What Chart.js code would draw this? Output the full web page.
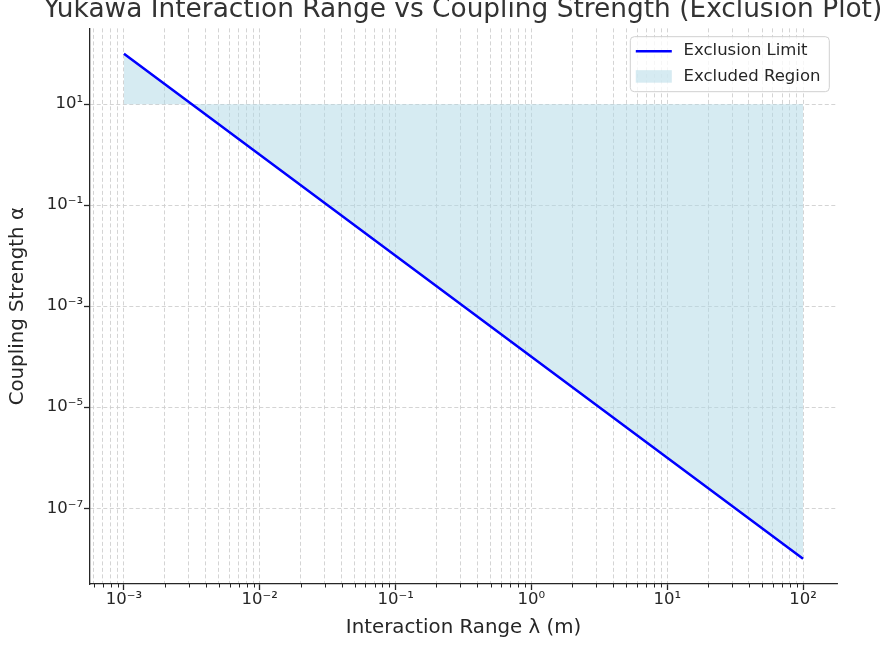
<!DOCTYPE html>
<html>
<head>
<meta charset="utf-8">
<script src="https://cdn.jsdelivr.net/npm/chart.js@4.4.1/dist/chart.umd.min.js"></script>
<style>
  html, body { margin: 0; padding: 0; background: #ffffff; overflow: hidden; width: 892px; height: 648px; }
  #wrap { position: absolute; left: 0; top: 0; width: 926px; height: 648px; }
</style>
</head>
<body>
<div id="wrap"><canvas id="c" width="926" height="648"></canvas></div>
<script>
// ---- data ----
const lambdaValues = [1e-3, 1e-2, 1e-1, 1e0, 1e1, 1e2];      // interaction range λ (m)
const alphaValues  = [1e2, 1e0, 1e-2, 1e-4, 1e-6, 1e-8];      // exclusion limit α
const exclusionCeiling = 10;                                   // upper edge of the shaded region
const seriesNames = ['Exclusion Limit', 'Excluded Region'];
const xMajorTicks = [1e-3, 1e-2, 1e-1, 1e0, 1e1, 1e2];
const xTickLabels = ['10⁻³', '10⁻²', '10⁻¹', '10⁰', '10¹', '10²'];
const yMajorTicks = [1e-7, 1e-5, 1e-3, 1e-1, 1e1];
const yTickLabels = ['10⁻⁷', '10⁻⁵', '10⁻³', '10⁻¹', '10¹'];
const xMinorMultipliers = [2, 3, 4, 5, 6, 7, 8, 9];
const xMinorDecades = [1e-4, 1e-3, 1e-2, 1e-1, 1e0, 1e1];
const titleText = 'Yukawa Interaction Range vs Coupling Strength (Exclusion Plot)';
const xTitle = 'Interaction Range λ (m)';
const yTitle = 'Coupling Strength α';

// ---- axis limits (matplotlib-style 5% margins in log space) ----
const X_MIN = Math.pow(10, -3.25), X_MAX = Math.pow(10, 2.25);
const Y_MIN = Math.pow(10, -8.5),  Y_MAX = Math.pow(10, 2.5);

const FONT = 'DejaVu Sans';
const TEXT = '#262626';
const GRID = '#cfcfcf';

const xMinorTicks = [];
xMinorDecades.forEach(d => xMinorMultipliers.forEach(m => {
  const v = m * d;
  if (v > X_MIN && v < X_MAX) xMinorTicks.push(v);
}));
const xAllTicks = xMajorTicks.concat(xMinorTicks).sort((a, b) => a - b);

const points = lambdaValues.map((x, i) => ({ x: x, y: alphaValues[i] }));

// minor tick marks on the x axis (shorter than major ones)
const minorTickPlugin = {
  id: 'minorTicks',
  afterDraw(chart) {
    const sx = chart.scales.x;
    const ctx = chart.ctx;
    const y0 = chart.chartArea.bottom;
    ctx.save();
    ctx.strokeStyle = TEXT;
    ctx.lineWidth = 1;
    xMinorTicks.forEach(v => {
      const px = Math.round(sx.getPixelForValue(v)) + 0.5;
      ctx.beginPath();
      ctx.moveTo(px, y0);
      ctx.lineTo(px, y0 + 3.5);
      ctx.stroke();
    });
    ctx.restore();
  }
};

// matplotlib-style legend inside the axes, upper right
const legendPlugin = {
  id: 'mplLegend',
  afterDraw(chart) {
    const ctx = chart.ctx;
    const a = chart.chartArea;
    const ds0 = chart.data.datasets[0], ds1 = chart.data.datasets[1];
    const w = 199, h = 55;
    const x0 = a.right - 7.7 - w, y0 = a.top + 8.3;
    const r = 4;
    ctx.save();
    ctx.beginPath();
    ctx.moveTo(x0 + r, y0);
    ctx.lineTo(x0 + w - r, y0);
    ctx.arcTo(x0 + w, y0, x0 + w, y0 + r, r);
    ctx.lineTo(x0 + w, y0 + h - r);
    ctx.arcTo(x0 + w, y0 + h, x0 + w - r, y0 + h, r);
    ctx.lineTo(x0 + r, y0 + h);
    ctx.arcTo(x0, y0 + h, x0, y0 + h - r, r);
    ctx.lineTo(x0, y0 + r);
    ctx.arcTo(x0, y0, x0 + r, y0, r);
    ctx.closePath();
    ctx.fillStyle = 'rgba(255,255,255,0.8)';
    ctx.fill();
    ctx.strokeStyle = '#d0d0d0';
    ctx.lineWidth = 1;
    ctx.stroke();

    ctx.strokeStyle = ds0.borderColor;
    ctx.lineWidth = ds0.borderWidth;
    ctx.beginPath();
    ctx.moveTo(x0 + 5.5, y0 + 14.5);
    ctx.lineTo(x0 + 41.5, y0 + 14.5);
    ctx.stroke();

    ctx.fillStyle = ds1.backgroundColor;
    ctx.fillRect(x0 + 5.5, y0 + 33.5, 36, 12.5);

    ctx.fillStyle = TEXT;
    ctx.font = '16.5px "' + FONT + '"';
    ctx.textBaseline = 'middle';
    ctx.textAlign = 'left';
    ctx.fillText(ds0.label, x0 + 53.3, y0 + 14.5);
    ctx.fillText(ds1.label, x0 + 53.3, y0 + 40);
    ctx.restore();
  }
};

new Chart(document.getElementById('c'), {
  type: 'line',
  data: {
    datasets: [
      {
        label: seriesNames[0],
        data: points,
        borderColor: '#0000ff',
        borderWidth: 2.5,
        pointRadius: 0,
        fill: false,
        tension: 0,
        order: 0
      },
      {
        label: seriesNames[1],
        data: points,
        borderWidth: 0,
        borderColor: 'rgba(0,0,0,0)',
        backgroundColor: 'rgba(173,216,230,0.5)',
        pointRadius: 0,
        fill: { value: exclusionCeiling },
        tension: 0,
        order: 1
      }
    ]
  },
  options: {
    responsive: false,
    animation: false,
    devicePixelRatio: 1,
    layout: { padding: 0 },
    plugins: {
      legend: { display: false },
      tooltip: { enabled: false },
      title: {
        display: true,
        text: titleText,
        color: '#333333',
        font: { family: FONT, size: 26.4, weight: 'normal', lineHeight: 1.2 },
        padding: { top: -5.4, bottom: 2.1 }
      }
    },
    scales: {
      x: {
        type: 'logarithmic',
        position: 'bottom',
        min: X_MIN,
        max: X_MAX,
        bounds: 'data',
        afterBuildTicks: s => { s.ticks = xAllTicks.map(v => ({ value: v })); },
        afterFit: s => { s.height = 64; },
        ticks: {
          autoSkip: false,
          maxRotation: 0,
          minRotation: 0,
          padding: 0,
          color: TEXT,
          font: { family: FONT, size: 16.5 },
          callback: v => { const i = xMajorTicks.indexOf(v); return i >= 0 ? xTickLabels[i] : ''; }
        },
        grid: {
          color: GRID,
          lineWidth: 0.9,
          drawTicks: true,
          tickLength: 6,
          tickWidth: 1.3,
          tickColor: c => (c.tick && xMajorTicks.indexOf(c.tick.value) >= 0) ? TEXT : 'rgba(0,0,0,0)'
        },
        border: { display: true, color: TEXT, width: 1.3, dash: [4, 2.5] },
        title: {
          display: true,
          text: xTitle,
          color: TEXT,
          font: { family: FONT, size: 19.8, lineHeight: 1.2 },
          padding: { top: 0, bottom: 8 }
        }
      },
      y: {
        type: 'logarithmic',
        position: 'left',
        min: Y_MIN,
        max: Y_MAX,
        bounds: 'data',
        afterBuildTicks: s => { s.ticks = yMajorTicks.map(v => ({ value: v })); },
        afterFit: s => { s.width = 90; },
        ticks: {
          autoSkip: false,
          padding: 1,
          color: TEXT,
          font: { family: FONT, size: 16.5 },
          callback: v => { const i = yMajorTicks.indexOf(v); return i >= 0 ? yTickLabels[i] : ''; }
        },
        grid: {
          color: GRID,
          lineWidth: 0.9,
          drawTicks: true,
          tickLength: 6,
          tickWidth: 1.3,
          tickColor: TEXT
        },
        border: { display: true, color: TEXT, width: 1.3, dash: [4, 2.5] },
        title: {
          display: true,
          text: yTitle,
          color: TEXT,
          font: { family: FONT, size: 19.8, lineHeight: 1.2 },
          padding: { top: 6.3, bottom: 0 }
        }
      },
      yRight: {
        type: 'linear',
        position: 'right',
        display: true,
        afterFit: s => { s.width = 926 - 837; },
        ticks: { display: false },
        grid: { display: false, drawTicks: false },
        border: { display: false },
        title: { display: false }
      }
    }
  },
  plugins: [minorTickPlugin, legendPlugin]
});
</script>
</body>
</html>
